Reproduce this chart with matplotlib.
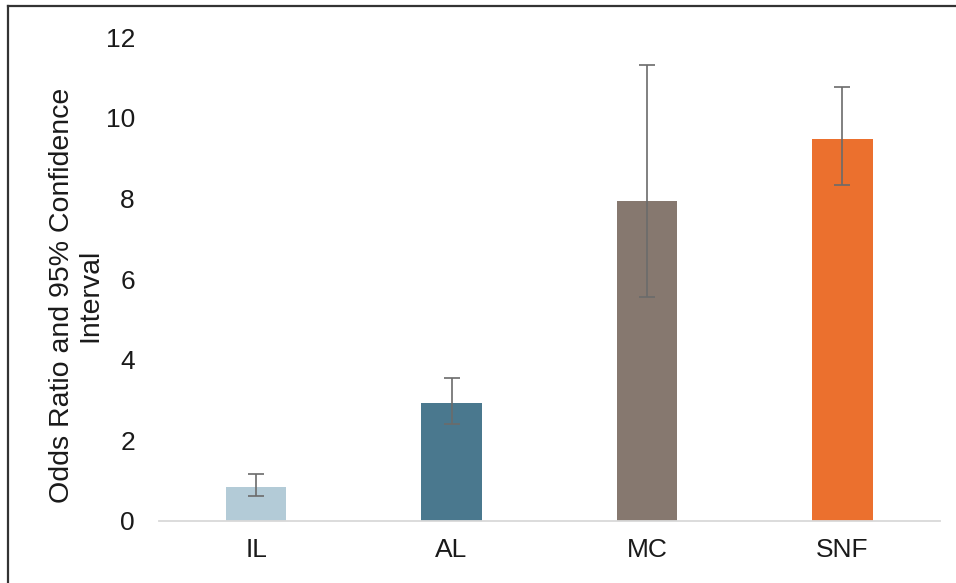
import matplotlib
matplotlib.use("Agg")
import matplotlib.pyplot as plt
from matplotlib.lines import Line2D
import numpy as np

categories = ["IL", "AL", "MC", "SNF"]
odds_ratio = [0.85, 2.93, 7.93, 9.46]
ci_lower = [0.61, 2.41, 5.55, 8.33]
ci_upper = [1.165, 3.55, 11.30, 10.75]
bar_colors = ["#B3CBD7", "#4A788E", "#86786F", "#EB702E"]
y_ticks = [0, 2, 4, 6, 8, 10, 12]

plt.rcParams["font.family"] = ["Liberation Sans", "DejaVu Sans"]

fig = plt.figure(figsize=(9.56, 5.83), dpi=100)
ax = fig.add_axes([158.5 / 956, 1 - 521 / 583, (940 - 158.5) / 956, (521 - 37) / 583])

x = np.arange(len(categories))
vals = np.array(odds_ratio)
yerr = np.array([vals - np.array(ci_lower), np.array(ci_upper) - vals])

ax.bar(x, vals, width=0.31, color=bar_colors, zorder=2)
ax.errorbar(x, vals, yerr=yerr, fmt="none", ecolor="#6B6B6B", elinewidth=1.2,
            capsize=6, capthick=1.2, zorder=3)

ax.set_xlim(-0.5, len(categories) - 0.5)
ax.set_ylim(0, 12)
ax.set_yticks(y_ticks)
ax.set_yticklabels([str(t) for t in y_ticks])
ax.set_xticks(x)
ax.set_xticklabels(categories)

for side in ("top", "right", "left"):
    ax.spines[side].set_visible(False)
ax.spines["bottom"].set_color("#D9D9D9")
ax.spines["bottom"].set_linewidth(1.3)

ax.tick_params(axis="y", length=0, pad=17, labelsize=19, labelcolor="#1A1A1A")
ax.tick_params(axis="x", length=0, pad=12, labelsize=19, labelcolor="#1A1A1A")

ax.set_ylabel("Odds Ratio and 95% Confidence\nInterval", fontsize=20.5,
              color="#1A1A1A", linespacing=1.15)
ax.yaxis.set_label_coords(-0.07, 0.467)

# outer frame on the left and top edges of the figure
fig.add_artist(Line2D([8 / 956, 8 / 956], [0, 1 - 6 / 583], transform=fig.transFigure,
                      color="#333333", linewidth=1.6))
fig.add_artist(Line2D([8 / 956, 1], [1 - 6 / 583, 1 - 6 / 583], transform=fig.transFigure,
                      color="#333333", linewidth=1.6))

fig.savefig("out.png", dpi=100, facecolor="white")
